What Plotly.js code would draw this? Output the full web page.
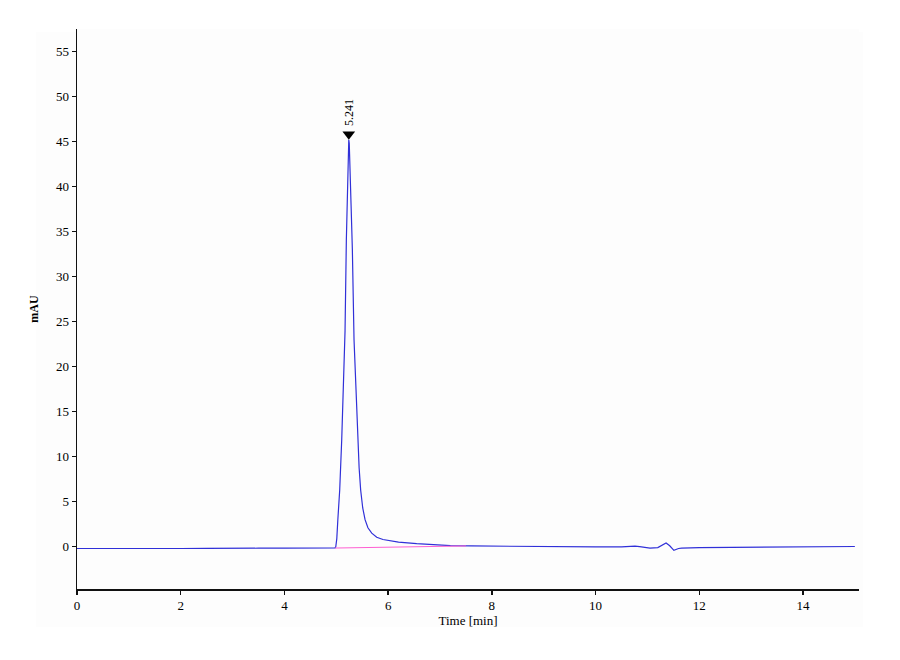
<!DOCTYPE html>
<html>
<head>
<meta charset="utf-8">
<script src="https://cdn.plot.ly/plotly-3.0.1.min.js"></script>
<style>
  body { margin: 0; background: #ffffff; }
  #graph { width: 900px; height: 660px; }
</style>
</head>
<body>
<div id="graph"></div>
<script>
// chromatogram trace, time in minutes and absorbance in mAU
var times = [0, 0.5, 1.0, 1.5, 2.0, 2.5, 3.0, 3.5, 4.0, 4.5, 4.9, 4.976,
    4.99, 5.01, 5.03, 5.066, 5.105, 5.136, 5.169, 5.194, 5.215, 5.232, 5.241, 5.25, 5.265, 5.285, 5.31,
    5.342, 5.381, 5.414, 5.44, 5.47, 5.51, 5.555, 5.61, 5.684, 5.78, 5.9, 6.05, 6.2, 6.55, 6.9, 7.2, 7.6,
    8.0, 8.5, 8.85, 8.92, 9.0, 9.5, 10.0, 10.5, 10.7, 10.76, 10.85, 11.05,
    11.2, 11.3, 11.36, 11.43, 11.51, 11.6, 11.66, 12.0, 12.5, 13.0, 13.5,
    13.7, 14.0, 14.3, 14.6, 15.0];
var signal = [-0.2, -0.22, -0.18, -0.22, -0.2, -0.18, -0.2, -0.17, -0.15, -0.15, -0.15, -0.13,
    -0.02, 0.9, 3.0, 6.3, 11.9, 17.4, 24, 34, 40.5, 44.2, 45.2, 44.8, 42.5, 38, 33,
    23, 17.4, 11.9, 8.8, 6.3, 4.3, 3.0, 2.1, 1.5, 1.05, 0.8, 0.62, 0.5, 0.33, 0.2, 0.12, 0.08,
    0.05, 0.0, 0.02, 0.05, 0.0, -0.02, -0.03, -0.03, 0.0, 0.07, 0.0, -0.15,
    -0.1, 0.25, 0.4, 0.1, -0.4, -0.2, -0.15, -0.1, -0.08, -0.05, -0.04,
    -0.1, -0.08, -0.05, -0.03, 0.02];

// integration baseline under the peak
var baseTimes = [4.976, 7.5];
var baseValues = [-0.15, 0.08];

// labelled peak
var peakTimes = [5.241];
var peakHeights = [45.2];
var peakLabels = ['5.241'];

var xTicks = [0, 2, 4, 6, 8, 10, 12, 14];
var yTicks = [0, 5, 10, 15, 20, 25, 30, 35, 40, 45, 50, 55];

var serif = '"Liberation Serif", "Times New Roman", serif';

var traces = [
    {
        x: times, y: signal,
        mode: 'lines', type: 'scatter',
        line: {color: '#3030d8', width: 1.2},
        hoverinfo: 'skip'
    },
    {
        x: baseTimes, y: baseValues,
        mode: 'lines', type: 'scatter',
        line: {color: '#ff5fd2', width: 1},
        hoverinfo: 'skip'
    },
    {
        // marker sits a little above the apex so its tip touches it
        x: peakTimes, y: peakHeights.map(function (h) { return h + 0.6; }),
        mode: 'markers', type: 'scatter',
        marker: {symbol: 'triangle-down', size: 11, color: '#000000'},
        hoverinfo: 'skip'
    }
];

var annotations = peakTimes.map(function (t, i) {
    return {
        x: t, y: peakHeights[i],
        text: peakLabels[i],
        showarrow: false,
        textangle: -90,
        yanchor: 'bottom',
        yshift: 12,
        font: {family: serif, size: 12, color: '#000000'}
    };
});

var layout = {
    width: 900, height: 660,
    margin: {l: 77, r: 41, t: 29, b: 71},
    paper_bgcolor: '#ffffff',
    plot_bgcolor: '#fdfdfd',
    showlegend: false,
    font: {family: serif, color: '#000000'},
    xaxis: {
        range: [0, 15.08],
        tickvals: xTicks,
        ticktext: xTicks.map(String),
        ticks: 'outside', ticklen: 4, tickwidth: 1.5, tickcolor: '#111',
        showline: true, linecolor: '#111', linewidth: 1.5,
        showgrid: false, zeroline: false,
        tickfont: {family: serif, size: 13, color: '#000'},
        title: {text: 'Time [min]', font: {family: serif, size: 13, color: '#000'}, standoff: 2}
    },
    yaxis: {
        range: [-4.7, 57.5],
        tickvals: yTicks,
        ticktext: yTicks.map(String),
        ticks: 'outside', ticklen: 4, tickwidth: 1.5, tickcolor: '#111',
        showline: true, linecolor: '#111', linewidth: 1.5,
        showgrid: false, zeroline: false,
        tickfont: {family: serif, size: 13, color: '#000'},
        title: {text: '<b>mAU</b>', font: {family: serif, size: 12, color: '#000'}, standoff: 14}
    },
    shapes: [{
        type: 'rect', xref: 'paper', yref: 'paper', layer: 'below',
        x0: -0.0524, x1: 1.005, y0: -0.068, y1: 0.995,
        fillcolor: '#fdfdfd', line: {width: 0}
    }],
    annotations: annotations
};

Plotly.newPlot('graph', traces, layout, {displayModeBar: false, staticPlot: true});
</script>
</body>
</html>
